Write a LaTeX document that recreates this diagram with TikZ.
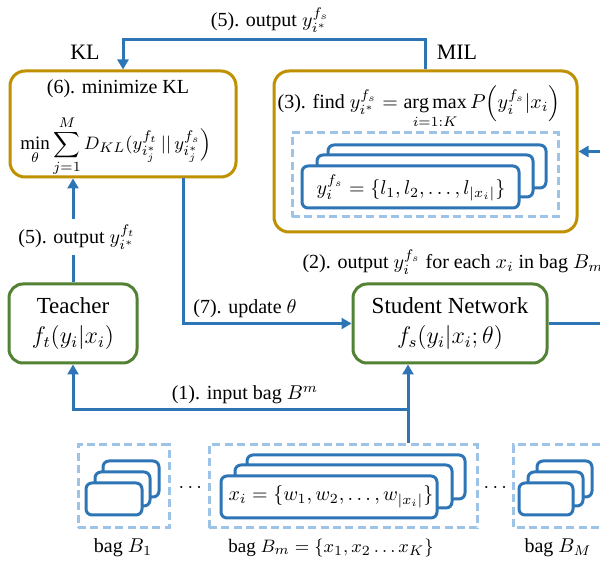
\documentclass[tikz,border=0pt]{standalone}
\usepackage{amsmath}
\usepackage{fontspec}
\setmainfont{Liberation Serif}
\usetikzlibrary{arrows.meta}
\definecolor{cblue}{HTML}{2E75B6}
\definecolor{clight}{HTML}{9DC3E6}
\definecolor{cgold}{HTML}{BF9000}
\definecolor{cgreen}{HTML}{548235}
\begin{document}
\begin{tikzpicture}[x=0.5pt,y=-0.5pt,
 goldbox/.style={draw=cgold, line width=1.5pt, rounded corners=7.5pt, inner sep=0pt},
 greenbox/.style={draw=cgreen, line width=1.5pt, rounded corners=7pt, align=center, font=\fontsize{11.5}{15}\selectfont},
 dashbox/.style={draw=clight, line width=1.5pt, dash pattern=on 4pt off 2.2pt},
 card/.style={draw=cblue, fill=white, line width=1.5pt, rounded corners=3pt},
 conn/.style={draw=cblue, line width=1.5pt},
 arr/.style={conn, -{Triangle[length=5pt,width=5.5pt]}},
 lbl/.style={font=\fontsize{10}{12}\selectfont, inner sep=1pt},
 big/.style={font=\fontsize{11}{13}\selectfont, inner sep=1pt},
 cardtxt/.style={font=\fontsize{10}{12}\selectfont, inner sep=1pt}
]
\fill[white] (0,0) rectangle (600,566);
\useasboundingbox (0,0) rectangle (600,566);

% main boxes
\node[goldbox, minimum width=113pt, minimum height=53pt] (kl) at (123,124) {};
\node[goldbox, minimum width=151.5pt, minimum height=80.5pt] (mil) at (425.5,151.5) {};
\node[greenbox, minimum width=64pt, minimum height=39.5pt] (teacher) at (73,323.5) {Teacher\\$f_t(y_i|x_i)$};
\node[greenbox, minimum width=97pt, minimum height=39.5pt] (student) at (450,323.5) {Student Network\\$f_s(y_i|x_i;\theta)$};

% KL box content
\node[lbl] (kltitle) at (118,89) {(6). minimize KL};
\node[lbl, font=\fontsize{9.5}{11}\selectfont] (klform) at (116,146) {$\displaystyle\min_{\theta}\sum_{j=1}^{M} D_{KL}(y^{f_t}_{i^*_j}\,||\,y^{f_s}_{i^*_j}\Big)$};

% MIL box content
\node[lbl] (miltitle) at (419,107) {(3). find $y^{f_s}_{i^*} = \mathop{\mathrm{arg\,max}}\limits_{i=1:K} P\Big(y^{f_s}_i|x_i\Big)$};
\node[dashbox, minimum width=133pt, minimum height=42pt] (mildash) at (425,175) {};
\draw[card] (328,145) rectangle (546,188);
\draw[card] (317,155) rectangle (533,197);
\draw[card] (302,166) rectangle (519,208);
\node[cardtxt] (ylabel) at (411,188) {$y^{f_s}_i = \{l_1, l_2, \dots, l_{|x_i|}\}$};

% bags
\node[dashbox, minimum width=45.5pt, minimum height=41.5pt] (bag1) at (123.5,486.5) {};
\draw[card] (103,461) rectangle (159,497);
\draw[card] (95,472) rectangle (150,506);
\draw[card] (86,483) rectangle (142,515);

\node[dashbox, minimum width=134pt, minimum height=41.5pt] (bagm) at (343,486.5) {};
\draw[card] (247,455) rectangle (465,499);
\draw[card] (235,465) rectangle (452,508);
\draw[card] (221,476) rectangle (437,518);
\node[cardtxt] (xlabel) at (331,497) {$x_i = \{w_1, w_2, \dots, w_{|x_i|}\}$};

\draw[dashbox] (600,445) -- (513,445) -- (513,528) -- (600,528);
\draw[card] (537,461) rectangle (592,497);
\draw[card] (528,472) rectangle (583,506);
\draw[card] (519,483) rectangle (573,515);

\node[lbl] (dots1) at (192,488) {$\cdots$};
\node[lbl] (dots2) at (497,488) {$\cdots$};
\node[lbl] (lb1) at (123,548) {bag $B_1$};
\node[lbl, font=\fontsize{9.5}{11}\selectfont] (lbm) at (331,548) {bag $B_m = \{x_1, x_2 \dots x_K\}$};
\node[lbl] (lbM) at (558,548) {bag $B_M$};

% connectors
\draw[arr] (mil.north) -- ++(0,-30) -| (kl.north);
\node[lbl] (l5top) at (270,20) {(5). output $y^{f_s}_{i^*}$};
\node[big] (lkl) at (85,52) {KL};
\node[big] (lmil) at (457,52) {MIL};

\draw[arr] (teacher.north) -- (kl.south -| teacher.north);
\node[lbl, fill=white, inner sep=3pt] (l5) at (77,237) {(5). output $y^{f_t}_{i^*}$};

\coordinate (kltap) at (183,0);
\draw[arr] (kl.south -| kltap) |- (student.west);
\node[lbl] (l7) at (245,309) {(7). update $\theta$};

\coordinate (sright) at (600,323.5);
\draw[conn] (student.east) -- (sright);
\coordinate (mright) at (600,151.5);
\draw[arr] (mright) -- (mil.east);
\node[lbl] (l2) at (453,262) {(2). output $y^{f_s}_i$ for each $x_i$ in bag $B_m$};

\coordinate (junc) at (408,410);
\draw[conn] (bagm.north -| junc) -- (junc);
\draw[arr] (junc) -- (student.south -| junc);
\draw[arr] (junc) -| (teacher.south);
\node[lbl] (l1) at (245,395) {(1). input bag $B^m$};
\end{tikzpicture}
\end{document}
